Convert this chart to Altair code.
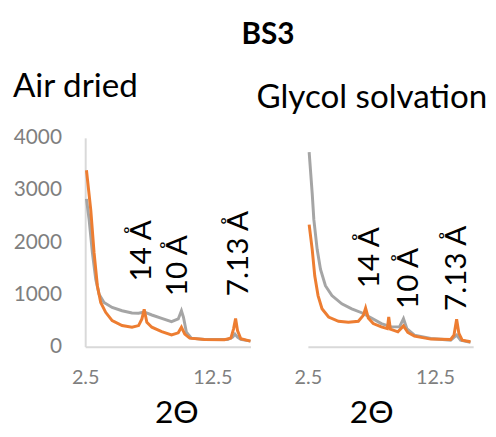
import altair as alt
import pandas as pd

FONT = "Lato, 'Noto Sans', sans-serif"

# ---- Air dried panel ----
ad_grey_x = [2.6, 2.81, 3.07, 3.33, 3.59, 3.98, 4.62, 5.40, 6.18, 6.70, 7.14, 7.74, 8.52, 9.29, 9.82, 10.07, 10.23, 10.46, 10.85, 11.89, 13.71, 14.10, 14.28, 14.48, 14.74, 15.5]
ad_grey_y = [2830, 2430, 1795, 1290, 1005, 847, 752, 689, 645, 640, 665, 607, 543, 480, 531, 689, 562, 278, 164, 139, 139, 183, 240, 183, 140, 107]
ad_orange_x = [2.6, 2.94, 3.20, 3.46, 3.72, 4.11, 4.62, 5.40, 6.18, 6.70, 6.96, 7.14, 7.35, 7.74, 8.52, 9.29, 9.82, 10.07, 10.33, 10.72, 11.89, 13.45, 13.96, 14.17, 14.33, 14.48, 14.74, 15.5]
ad_orange_y = [3380, 2616, 1795, 1162, 847, 658, 499, 404, 373, 404, 531, 715, 467, 373, 290, 227, 265, 373, 240, 164, 139, 133, 164, 341, 538, 310, 152, 107]

# ---- Glycol solvation panel ----
gs_grey_x = [2.6, 2.84, 2.97, 3.23, 3.49, 3.88, 4.39, 5.17, 5.95, 6.73, 7.50, 8.28, 9.06, 9.71, 10.02, 10.28, 10.88, 12.17, 13.73, 14.2, 14.51, 15.29]
gs_grey_y = [3728, 2938, 2432, 1864, 1484, 1168, 979, 821, 726, 650, 550, 442, 379, 379, 537, 347, 221, 158, 126, 221, 126, 82]
gs_orange_x = [2.6, 2.84, 3.04, 3.30, 3.61, 4.13, 4.91, 5.69, 6.47, 6.86, 7.04, 7.25, 7.64, 8.28, 8.75, 8.86, 8.99, 9.58, 10.02, 10.36, 10.88, 12.17, 13.73, 13.99, 14.2, 14.38, 14.64, 15.29]
gs_orange_y = [2338, 1864, 1358, 979, 726, 568, 486, 467, 486, 600, 739, 550, 442, 379, 347, 568, 335, 284, 398, 272, 202, 145, 139, 221, 524, 252, 126, 95]

# ---- peak labels ----
peak_labels = ["14 Å", "10 Å", "7.13 Å"]
ad_label_x = [6.98, 9.80, 14.60]
ad_label_y = [1250, 967, 967]
gs_label_x = [7.40, 10.45, 14.25]
gs_label_y = [1118, 720, 682]

x_ticks = [2.5, 12.5]
y_ticks = [0, 1000, 2000, 3000, 4000]

GREY = "#A5A5A5"
ORANGE = "#ED7D31"


def panel(gx, gy, ox, oy, lx, ly, title, show_y, title_dx, title_x):
    grey = pd.DataFrame({"x": gx, "y": gy})
    orange = pd.DataFrame({"x": ox, "y": oy})
    labels = pd.DataFrame({"x": lx, "y": ly, "t": peak_labels})

    x_enc = alt.X(
        "x:Q",
        scale=alt.Scale(domain=[2.5, 15.5], nice=False, zero=False),
        axis=alt.Axis(
            values=x_ticks, format=".1f", title="2Θ", ticks=False, grid=False,
            domainColor="#D9D9D9", domainWidth=2, labelFlush=False,
            labelFont=FONT, labelFontSize=20, labelColor="#7F7F7F", labelPadding=21,
            titleFont=FONT, titleFontSize=32, titleFontWeight="normal", titleColor="black",
            titleX=title_x, titleAlign="center", titlePadding=11,
        ),
    )
    if show_y:
        y_axis = alt.Axis(
            values=y_ticks, format="d", title=None, ticks=False, grid=False,
            domainColor="#D9D9D9", domainWidth=2,
            labelFont=FONT, labelFontSize=21, labelColor="#7F7F7F", labelPadding=24,
        )
    else:
        y_axis = None
    y_enc = alt.Y("y:Q", scale=alt.Scale(domain=[0, 4000], nice=False), axis=y_axis)

    g = alt.Chart(grey).mark_line(color=GREY, strokeWidth=3).encode(x=x_enc, y=y_enc)
    o = alt.Chart(orange).mark_line(color=ORANGE, strokeWidth=3).encode(x=x_enc, y=y_enc)
    t = alt.Chart(labels).mark_text(
        angle=270, align="left", baseline="middle", fontSize=30, font=FONT, color="black"
    ).encode(x=x_enc, y=y_enc, text="t:N")
    return alt.layer(g, o, t).properties(
        width=167, height=211,
        title=alt.TitleParams(
            title, anchor="start", frame="group", dx=title_dx, fontSize=33.5,
            fontWeight="normal", font=FONT, color="black", offset=23,
        ),
    )


left = panel(ad_grey_x, ad_grey_y, ad_orange_x, ad_orange_y, ad_label_x, ad_label_y,
             "Air dried", True, -73, 92)
right = panel(gs_grey_x, gs_grey_y, gs_orange_x, gs_orange_y, gs_label_x, gs_label_y,
              "Glycol solvation", False, -52, 64)

chart = alt.hconcat(left, right, spacing=0).properties(
    title=alt.TitleParams("BS3", fontSize=30, fontWeight="bold", font=FONT, color="black",
                          anchor="middle", offset=20, dx=18),
    padding={"left": 5, "top": 10, "right": 0, "bottom": 0},
).configure_view(stroke=None)

chart.save("out.html", embed_options={"renderer": "svg", "actions": False})
